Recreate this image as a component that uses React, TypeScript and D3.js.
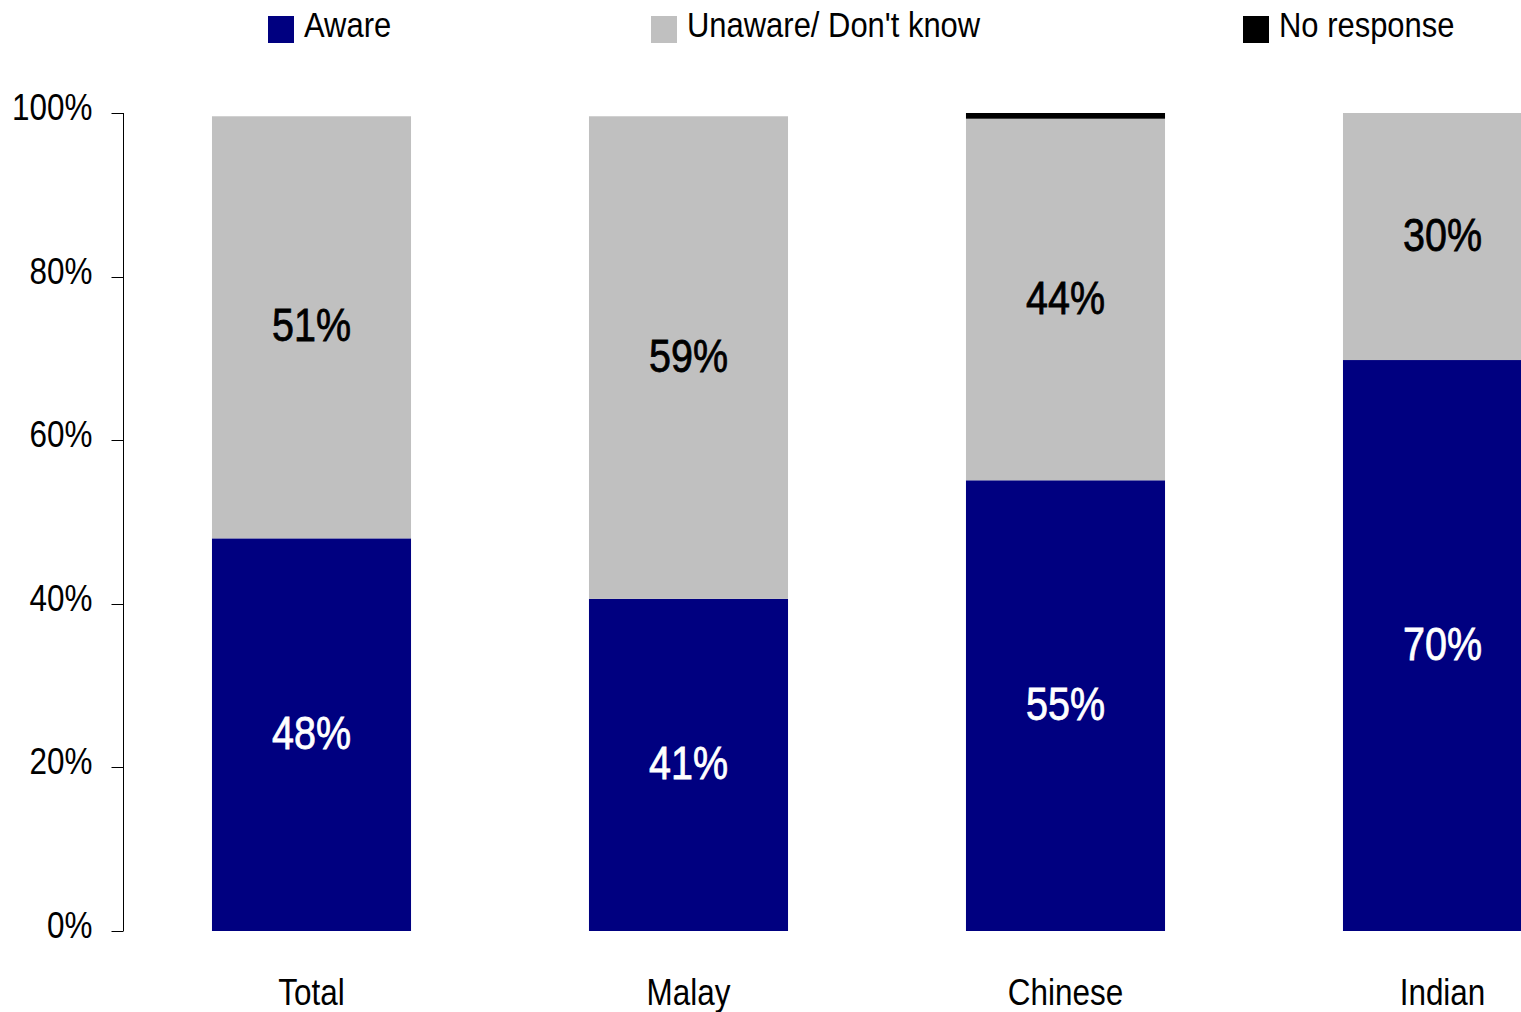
import React, { useEffect, useRef } from "react";
import * as d3 from "d3";

const categories = ["Total", "Malay", "Chinese", "Indian"];
const seriesNames = ["Aware", "Unaware/ Don't know", "No response"];
const aware = [48.0, 40.6, 55.1, 69.8];
const unaware = [51.6, 59.0, 44.2, 30.2];
const noResponse = [0, 0, 0.7, 0];
const awareLabels = ["48%", "41%", "55%", "70%"];
const unawareLabels = ["51%", "59%", "44%", "30%"];
const yTicks = [0, 20, 40, 60, 80, 100];
const colors = ["#000080", "#C0C0C0", "#000000"];

const W = 1521;
const H = 1012;
const FONT = "'Liberation Sans', Arial, sans-serif";
const SX = 0.85;
const SX_VAL = 0.84;

export default function App() {
  const ref = useRef<SVGSVGElement>(null);
  useEffect(() => {
    const svg = d3.select(ref.current);
    svg.selectAll("*").remove();

    const x = d3
      .scaleBand<string>()
      .domain(categories)
      .range([123, 1631])
      .paddingInner(0.472)
      .paddingOuter(0.236);
    const y = d3.scaleLinear().domain([0, 100]).range([931, 113]);

    const rows = categories.map((c, i) => ({
      cat: c,
      Aware: aware[i],
      Unaware: unaware[i],
      No: noResponse[i],
    }));
    const keys = ["Aware", "Unaware", "No"];
    const stack = d3.stack<any>().keys(keys)(rows);

    stack.forEach((layer, li) => {
      svg
        .append("g")
        .selectAll("rect")
        .data(layer)
        .join("rect")
        .attr("x", (d: any) => x(d.data.cat)!)
        .attr("width", x.bandwidth())
        .attr("y", (d: any) => y(d[1]))
        .attr("height", (d: any) => Math.max(0, y(d[0]) - y(d[1])))
        .attr("fill", colors[li]);
    });

    // value labels
    const labelSets = [awareLabels, unawareLabels];
    [0, 1].forEach((li) => {
      const col = li === 0 ? "#ffffff" : "#000000";
      svg
        .append("g")
        .selectAll("text")
        .data(stack[li])
        .join("text")
        .attr(
          "transform",
          (d: any) =>
            `translate(${x(d.data.cat)! + x.bandwidth() / 2},${(y(d[0]) + y(d[1])) / 2}) scale(${SX_VAL},1)`
        )
        .attr("dy", "0.30em")
        .attr("text-anchor", "middle")
        .attr("font-family", FONT)
        .attr("font-size", 47)
        .attr("fill", col)
        .attr("stroke", col)
        .attr("stroke-width", 0.8)
        .text((_d: any, i: number) => labelSets[li][i]);
    });

    // y axis
    const axis = svg.append("g").attr("transform", "translate(123.5,0)");
    axis
      .append("line")
      .attr("x1", 0)
      .attr("x2", 0)
      .attr("y1", y(100))
      .attr("y2", y(0))
      .attr("stroke", "#000")
      .attr("stroke-width", 1);
    const ticks = axis.selectAll("g.tick").data(yTicks).join("g").attr("class", "tick");
    ticks
      .append("line")
      .attr("x1", -12)
      .attr("x2", 0)
      .attr("y1", (d) => Math.round(y(d)) + 0.5)
      .attr("y2", (d) => Math.round(y(d)) + 0.5)
      .attr("stroke", "#000");
    ticks
      .append("text")
      .attr("transform", (d) => `translate(-31,${y(d) + 7}) scale(${SX},1)`)
      .attr("text-anchor", "end")
      .attr("font-family", FONT)
      .attr("font-size", 37)
      .attr("fill", "#000")
      .text((d) => `${d}%`);

    // category labels
    svg
      .append("g")
      .selectAll("text")
      .data(categories)
      .join("text")
      .attr("transform", (d) => `translate(${x(d)! + x.bandwidth() / 2},1005) scale(${SX},1)`)
      .attr("text-anchor", "middle")
      .attr("font-family", FONT)
      .attr("font-size", 37)
      .attr("fill", "#000")
      .text((d) => d);

    // legend
    const legendX = [268, 651, 1243];
    const lg = svg
      .append("g")
      .selectAll("g")
      .data(seriesNames)
      .join("g")
      .attr("transform", (_d, i) => `translate(${legendX[i]},0)`);
    lg.append("rect")
      .attr("x", 0)
      .attr("y", 16)
      .attr("width", 26)
      .attr("height", 27)
      .attr("fill", (_d, i) => colors[i]);
    lg.append("text")
      .attr("transform", `translate(36,37) scale(0.86,1)`)
      .attr("font-family", FONT)
      .attr("font-size", 36)
      .attr("fill", "#000")
      .text((d) => d);
  }, []);

  return (
    <svg
      ref={ref}
      width={W}
      height={H}
      style={{ position: "absolute", left: 0, top: 0, background: "#fff" }}
    />
  );
}
